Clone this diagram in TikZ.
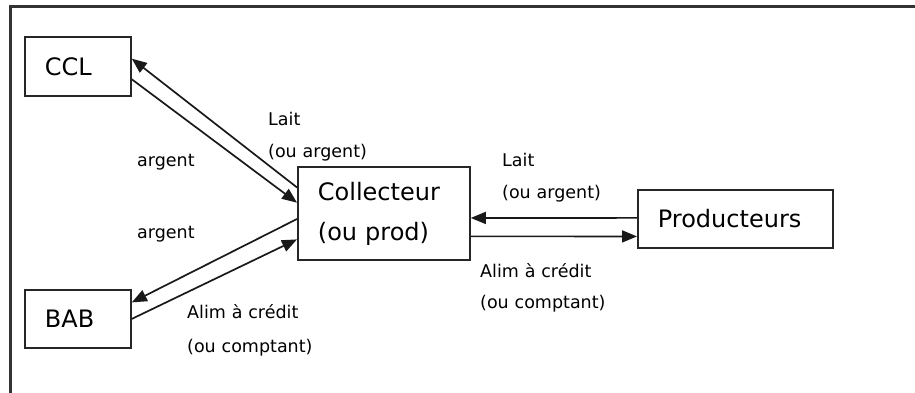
\documentclass[tikz,border=0pt]{standalone}
\usepackage{fontspec}
\setmainfont{DejaVu Sans}
\usetikzlibrary{arrows.meta,calc}
\begin{document}
\begin{tikzpicture}[x=1pt,y=-1pt,
  box/.style={draw=black!85, line width=1.8pt, inner xsep=20pt, inner ysep=0pt,
    align=left, anchor=north west, font=\fontsize{24}{40}\selectfont},
  lbl/.style={anchor=base west, inner sep=0pt, align=left,
    font=\fontsize{17.5}{32}\selectfont},
  flow/.style={draw=black!90, line width=1.7pt, -{Triangle[length=15pt,width=12pt]}}]
\useasboundingbox (0,0) rectangle (915,392);
% frame
\draw[line width=2.5pt, black!80] (10.5,420) -- (10.5,6.5) -- (940,6.5);
% boxes
\node[box, minimum width=106pt, minimum height=59pt, text width=66pt] (ccl) at (24,36) {CCL};
\node[box, minimum width=106pt, minimum height=58pt, text width=66pt] (bab) at (24,289) {BAB};
\node[box, minimum width=172pt, minimum height=93pt, text width=132pt] (coll) at (297,166) {Collecteur\\(ou prod)};
\node[box, minimum width=195pt, minimum height=58pt, text width=155pt] (prod) at (637,189) {Producteurs};
% connection points
\coordinate (c1) at ($(coll.north west)!0.226!(coll.south west)$);
\coordinate (c2) at ($(coll.north west)!0.387!(coll.south west)$);
\coordinate (c3) at ($(coll.north west)!0.559!(coll.south west)$);
\coordinate (c4) at ($(coll.north west)!0.774!(coll.south west)$);
\coordinate (c5) at ($(coll.north east)!0.548!(coll.south east)$);
\coordinate (c6) at ($(coll.north east)!0.742!(coll.south east)$);
\coordinate (k1) at ($(ccl.north east)!0.373!(ccl.south east)$);
\coordinate (k2) at ($(ccl.north east)!0.712!(ccl.south east)$);
\coordinate (b1) at ($(bab.north east)!0.224!(bab.south east)$);
\coordinate (b2) at ($(bab.north east)!0.5!(bab.south east)$);
\coordinate (p1) at ($(prod.north west)!0.483!(prod.south west)$);
\coordinate (p2) at ($(prod.north west)!0.793!(prod.south west)$);
% connectors
\draw[flow] (c1) -- (k1);
\draw[flow] (k2) -- (c2);
\draw[flow] (c3) -- (b1);
\draw[flow] (b2) -- (c4);
\draw[flow] (p1) -- (c5);
\draw[flow] (c6) -- (p2);
% labels
\node[lbl, text width=120pt] (l1) at (268,125) {Lait\\(ou argent)};
\node[lbl] (l2) at (137,166) {argent};
\node[lbl] (l3) at (137,238) {argent};
\node[lbl, text width=140pt, font=\fontsize{17.5}{34}\selectfont] (l4) at (187,318) {Alim à crédit\\(ou comptant)};
\node[lbl, text width=120pt] (l5) at (502,166) {Lait\\(ou argent)};
\node[lbl, text width=140pt, font=\fontsize{17.5}{31}\selectfont] (l6) at (480,277) {Alim à crédit\\(ou comptant)};
\end{tikzpicture}
\end{document}
